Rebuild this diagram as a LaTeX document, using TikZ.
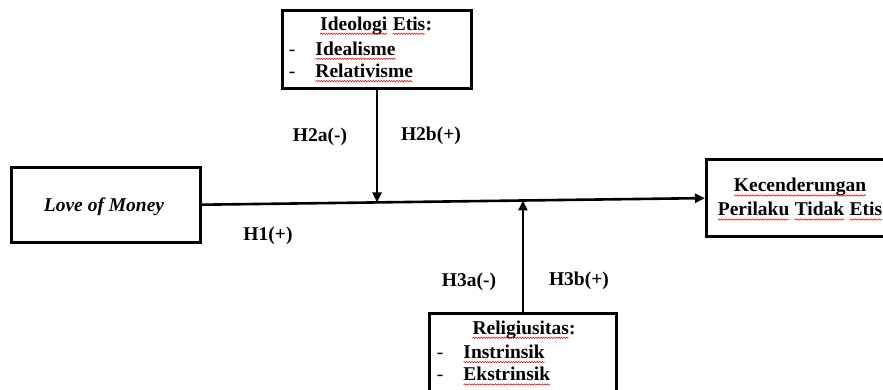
\documentclass[tikz,border=0pt]{standalone}
\usepackage{fontspec}
\setmainfont{Liberation Serif}
\usetikzlibrary{arrows.meta,calc,decorations.pathmorphing}
\newcommand\sqw[1]{\tikz[baseline=0pt,x=1pt,y=1pt]{\node[inner sep=0pt,outer sep=0pt,anchor=base west] (sqwrd) at (0,0) {#1};
 \draw[red!85!black, line width=0.5pt, decorate, decoration={snake,amplitude=0.7pt,segment length=2.6pt}] ([yshift=-3.8pt]sqwrd.base west) -- ([yshift=-3.8pt]sqwrd.base east);}}
\begin{document}
\begin{tikzpicture}[x=1pt,y=-1pt,
  font=\fontsize{19.5}{24}\selectfont\bfseries,
  box/.style={draw, line width=3pt, inner sep=0pt},
  txt/.style={inner sep=0pt, anchor=base},
  lbl/.style={inner sep=0pt, anchor=base},
  dsh/.style={inner sep=0pt, anchor=base, font=\fontsize{19.5}{24}\selectfont\mdseries},
  conn/.style={line width=2.6pt, -{Triangle[length=10pt,width=9pt]}}]
\useasboundingbox (0,0) rectangle (883,389);

% boxes
\node[box, minimum width=189pt, minimum height=75pt] (lom) at (106,204.7) {};
\node[box, minimum width=183.5pt, minimum height=76.7pt] (ked) at (798.25,198.1) {};
\node[box, minimum width=188.5pt, minimum height=78pt] (ideo) at (376.75,49.75) {};
\node[box, minimum width=187.5pt, minimum height=82pt] (rel) at (522.75,354.2) {};

% texts
\node[txt] (lomT) at (104,211) {\itshape Love of Money};
\node[txt] (ked1) at (800,191.7) {\sqw{Kecenderungan}};
\node[txt] (ked2) at (800,215.7) {\sqw{Perilaku} \sqw{Tidak} \sqw{Etis}};

\node[txt] (ideoT) at (376,30) {\sqw{Ideologi} \sqw{Etis}:};
\node[dsh] (ideoD1) at (292,55) {-};
\node[txt, anchor=base west] (ideo1) at (315,55) {\sqw{Idealisme}};
\node[dsh] (ideoD2) at (292,77.3) {-};
\node[txt, anchor=base west] (ideo2) at (315,77.3) {\sqw{Relativisme}};

\node[txt] (relT) at (524,334) {\sqw{Religiusitas}:};
\node[dsh] (relD1) at (440,358.3) {-};
\node[txt, anchor=base west] (rel1) at (463,358.3) {\sqw{Instrinsik}};
\node[dsh] (relD2) at (440,380.7) {-};
\node[txt, anchor=base west] (rel2) at (463,380.7) {\sqw{Ekstrinsik}};

% connectors
\coordinate (m1) at ($(lom.east)!0.348!(ked.west)$);
\coordinate (m2) at ($(lom.east)!0.638!(ked.west)$);
\draw[conn] (lom.east) -- (ked.west);
\draw[conn] (ideo.south -| m1) -- (m1);
\draw[conn] (rel.north -| m2) -- (m2);

% labels
\node[lbl] (h1) at (268,240) {H1(+)};
\node[lbl] (h2a) at (320,141.5) {H2a(-)};
\node[lbl] (h2b) at (431,140) {H2b(+)};
\node[lbl] (h3a) at (469,286) {H3a(-)};
\node[lbl] (h3b) at (579,285) {H3b(+)};
\end{tikzpicture}
\end{document}
